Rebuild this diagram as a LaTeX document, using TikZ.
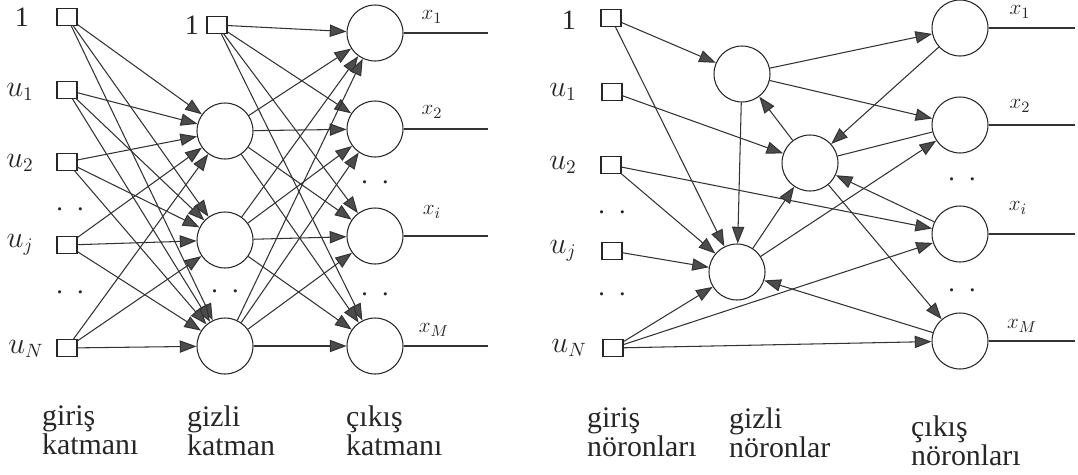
\documentclass[tikz,border=0pt]{standalone}
\usepackage{fontspec}
\setmainfont{Liberation Serif}
\usetikzlibrary{arrows.meta}

\tikzset{
  inbox/.style={draw=black!85, line width=0.6pt, minimum width=0.4cm, minimum height=0.34cm, inner sep=0pt},
  neuron/.style={draw=black!85, line width=0.6pt, circle, minimum size=1.12cm, inner sep=0pt},
  link/.style={-{Triangle[length=9.5pt,width=7pt,fill=black!70]}, draw=black!80, line width=0.6pt},
  plain/.style={draw=black!80, line width=0.6pt},
  inlabel/.style={font=\fontsize{16}{18}\selectfont, text=black!85},
  outlabel/.style={font=\fontsize{13}{15}\selectfont, text=black!85},
  layername/.style={font=\fontsize{17}{16.5}\selectfont, text=black!85, align=left, anchor=north west},
  gap/.style={font=\fontsize{15}{17}\selectfont, text=black!85}
}

\begin{document}
\begin{tikzpicture}[x=0.02cm, y=-0.02cm]
    \useasboundingbox (0,0) rectangle (1078,474);

    % katmanli ag
    \node[inbox] (i0) at (67,17) {}; \node[inbox] (i1) at (67,90) {};
    \node[inbox] (i2) at (67,162) {}; \node[inbox] (ij) at (67,245) {};
    \node[inbox] (iN) at (67,348) {};
    \node[inlabel] (li0) at (22,17) {1}; \node[inlabel] (li1) at (20,92) {$u_1$};
    \node[inlabel] (li2) at (20,163) {$u_2$}; \node[inlabel] (lij) at (20,245) {$u_j$};
    \node[inlabel] (liN) at (26,349) {$u_N$};
    \node[gap] (gi1) at (70,209) {.\hspace{8pt}.}; \node[gap] (gi2) at (70,292) {.\hspace{8pt}.};

    \node[inbox] (hb) at (217,25) {}; \node[inlabel] (lhb) at (192,25) {1};
    \node[neuron] (h1) at (225,131) {}; \node[neuron] (h2) at (225,240) {};
    \node[neuron] (h3) at (225,346) {};
    \node[gap] (gh) at (225,291) {.\hspace{8pt}.};

    \node[neuron] (o1) at (375,33) {}; \node[neuron] (o2) at (375,129) {};
    \node[neuron] (o3) at (375,236) {}; \node[neuron] (o4) at (375,346) {};
    \node[gap] (go1) at (375,182) {.\hspace{8pt}.}; \node[gap] (go2) at (375,294) {.\hspace{8pt}.};

    \draw[link] (i0) -- (h1); \draw[link] (i0) -- (h2); \draw[link] (i0) -- (h3);
    \draw[link] (i1) -- (h1); \draw[link] (i1) -- (h2); \draw[link] (i1) -- (h3);
    \draw[link] (i2) -- (h1); \draw[link] (i2) -- (h2); \draw[link] (i2) -- (h3);
    \draw[link] (ij) -- (h1); \draw[link] (ij) -- (h2); \draw[link] (ij) -- (h3);
    \draw[link] (iN) -- (h1); \draw[link] (iN) -- (h2); \draw[link] (iN) -- (h3);

    \draw[link] (hb) -- (o1); \draw[link] (hb) -- (o2); \draw[link] (hb) -- (o3); \draw[link] (hb) -- (o4);
    \draw[link] (h1) -- (o1); \draw[link] (h1) -- (o2); \draw[link] (h1) -- (o3); \draw[link] (h1) -- (o4);
    \draw[link] (h2) -- (o1); \draw[link] (h2) -- (o2); \draw[link] (h2) -- (o3); \draw[link] (h2) -- (o4);
    \draw[link] (h3) -- (o1); \draw[link] (h3) -- (o2); \draw[link] (h3) -- (o3); \draw[link] (h3) -- (o4);

    \coordinate (e1) at (488,33); \coordinate (e2) at (488,129);
    \coordinate (e3) at (488,236); \coordinate (e4) at (488,346);
    \draw[plain] (o1.east) -- (e1); \draw[plain] (o2.east) -- (e2);
    \draw[plain] (o3.east) -- (e3); \draw[plain] (o4.east) -- (e4);
    \node[outlabel] (lo1) at (432,17) {$x_1$}; \node[outlabel] (lo2) at (432,112) {$x_2$};
    \node[outlabel] (lo3) at (432,212) {$x_i$}; \node[outlabel] (lo4) at (434,330) {$x_M$};

    \node[layername] (n1) at (36,400) {giriş\\katmanı};
    \node[layername] (n2) at (181,400) {gizli\\katman};
    \node[layername] (n3) at (340,400) {çıkış\\katmanı};

    % geri beslemeli ag
    \node[inbox] (ri0) at (611,18) {}; \node[inbox] (ri1) at (612,92) {};
    \node[inbox] (ri2) at (611,165) {}; \node[inbox] (rij) at (612,251) {};
    \node[inbox] (riN) at (613,348) {};
    \node[inlabel] (lri0) at (569,20) {1}; \node[inlabel] (lri1) at (563,92) {$u_1$};
    \node[inlabel] (lri2) at (563,165) {$u_2$}; \node[inlabel] (lrij) at (563,251) {$u_j$};
    \node[inlabel] (lriN) at (569,348) {$u_N$};
    \node[gap] (gri1) at (612,212) {.\hspace{8pt}.}; \node[gap] (gri2) at (612,294) {.\hspace{8pt}.};

    \node[neuron] (rh1) at (742,74) {}; \node[neuron] (rh2) at (810,163) {};
    \node[neuron] (rh3) at (737,272) {};

    \node[neuron] (ro1) at (960,28) {}; \node[neuron] (ro2) at (960,125) {};
    \node[neuron] (ro3) at (960,234) {}; \node[neuron] (ro4) at (960,341) {};
    \node[gap] (gro1) at (962,179) {.\hspace{8pt}.}; \node[gap] (gro2) at (962,290) {.\hspace{8pt}.};

    \draw[link] (ri0) -- (rh1); \draw[link] (ri0) -- (rh3);
    \draw[link] (ri1) -- (rh2);
    \draw[link] (ri2) -- (rh3); \draw[link] (ri2) -- (ro3);
    \draw[link] (rij) -- (rh3);
    \draw[link] (riN) -- (rh3); \draw[link] (riN) -- (ro3); \draw[link] (riN) -- (ro4);

    \draw[link] (rh1) -- (ro1); \draw[link] (rh1) -- (ro2); \draw[link] (rh1) -- (rh3);
    \draw[link] (rh2) -- (rh1); \draw[link] (rh2) -- (ro4);
    \draw[link] (rh3) -- (rh2); \draw[link] (rh3) -- (ro2);
    \draw[link] (ro1) -- (rh2); \draw[plain] (ro2) -- (rh2);
    \draw[link] (ro3) -- (rh2); \draw[link] (ro4) -- (rh3);

    \coordinate (re1) at (1075,28); \coordinate (re2) at (1075,125);
    \coordinate (re3) at (1075,234); \coordinate (re4) at (1075,341);
    \draw[plain] (ro1.east) -- (re1); \draw[plain] (ro2.east) -- (re2);
    \draw[plain] (ro3.east) -- (re3); \draw[plain] (ro4.east) -- (re4);
    \node[outlabel] (lro1) at (1020,12) {$x_1$}; \node[outlabel] (lro2) at (1020,106) {$x_2$};
    \node[outlabel] (lro3) at (1018,208) {$x_i$}; \node[outlabel] (lro4) at (1022,326) {$x_M$};

    \node[layername] (rn1) at (581,402) {giriş\\nöronları};
    \node[layername] (rn2) at (723,402) {gizli\\nöronlar};
    \node[layername] (rn3) at (905,410) {çıkış\\nöronları};
\end{tikzpicture}
\end{document}
